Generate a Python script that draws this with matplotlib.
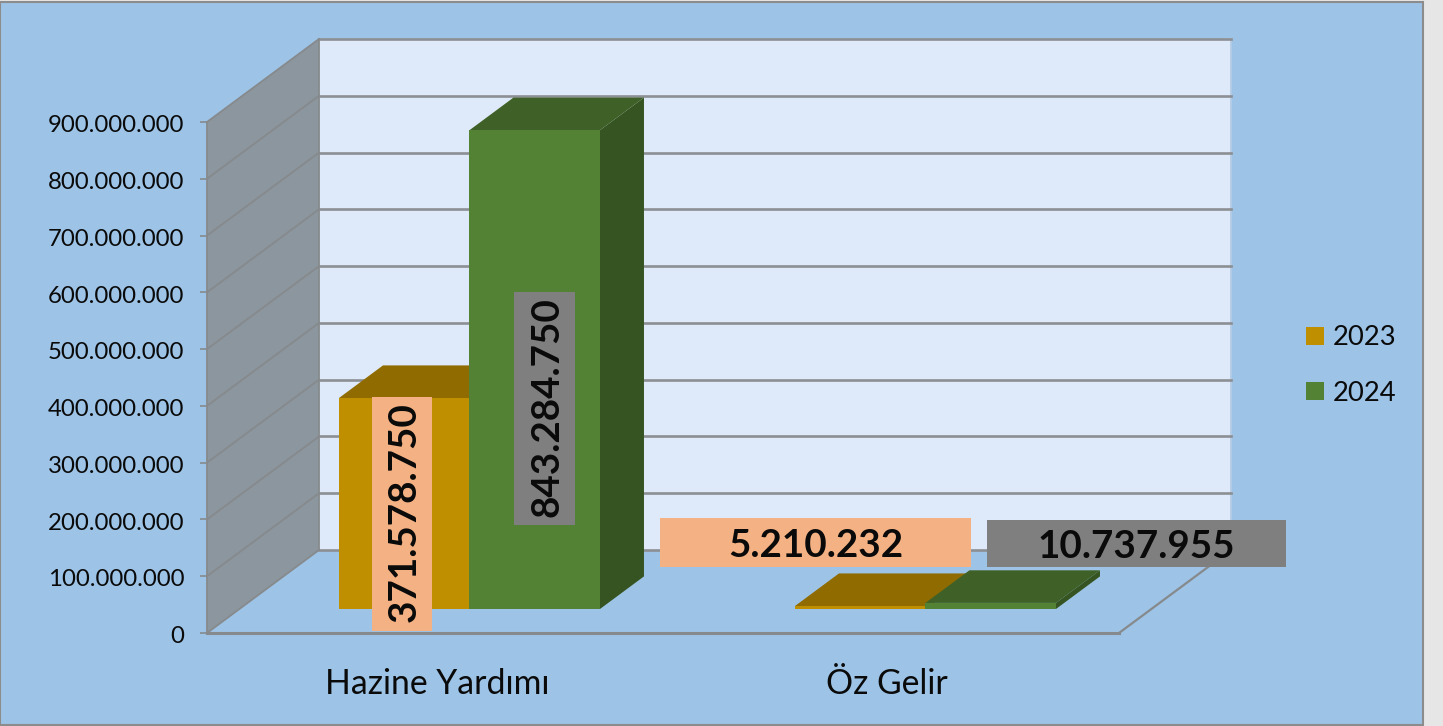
import matplotlib
matplotlib.use("Agg")
import matplotlib.pyplot as plt
from matplotlib.patches import Rectangle, Patch, Polygon
from matplotlib.transforms import Affine2D, ScaledTranslation

categories = ["Hazine Yardımı", "Öz Gelir"]
series_names = ["2023", "2024"]
values_2023 = [371578750, 5210232]
values_2024 = [843284750, 10737955]
label_2023 = ["371.578.750", "5.210.232"]
label_2024 = ["843.284.750", "10.737.955"]
y_ticks = [0, 100000000, 200000000, 300000000, 400000000, 500000000, 600000000, 700000000, 800000000, 900000000]
y_tick_labels = ["0", "100.000.000", "200.000.000", "300.000.000", "400.000.000", "500.000.000",
                 "600.000.000", "700.000.000", "800.000.000", "900.000.000"]

W, H = 1443, 726
FONT = "Lato"
BG = "#9DC3E6"
fig = plt.figure(figsize=(W / 100, H / 100), dpi=100, facecolor="#E6E6E6")

# pixel helper (origin top-left) used only for layout of frame and label boxes
px = Affine2D().scale(1 / W, -1 / H).translate(0, 1) + fig.transFigure
fig.add_artist(Rectangle((0, 2), 1423, 723, transform=px, facecolor=BG, edgecolor="#8C8C8C", lw=1.5, zorder=-5))

# the front plane of the oblique box is the real axes
L, R, T, B = 207, 1119, 122, 633
ax = fig.add_axes([L / W, 1 - B / H, (R - L) / W, (B - T) / H])
ax.set_xlim(0, 2)
ax.set_ylim(0, 900000000)
ax.patch.set_visible(False)
for s in ax.spines.values():
    s.set_visible(False)

DX = 112 / 456          # depth offset in category units
DY = 83 / 511 * 900e6   # depth offset in value units
GRID = "#8C8F93"


def proj(x, y, d):
    return (x + d * DX, y + d * DY)


def poly(pts, **kw):
    ax.add_patch(Polygon(pts, closed=True, clip_on=False, **kw))


ymax = y_ticks[-1]
# back wall, side wall, floor
poly([proj(0, 0, 1), proj(2, 0, 1), proj(2, ymax, 1), proj(0, ymax, 1)], facecolor="#DEEAF9", edgecolor="none", zorder=1)
poly([proj(0, 0, 0), proj(0, 0, 1), proj(0, ymax, 1), proj(0, ymax, 0)], facecolor="#8C969F", edgecolor="none", zorder=1)
poly([proj(0, 0, 0), proj(2, 0, 0), proj(2, 0, 1), proj(0, 0, 1)], facecolor=BG, edgecolor="none", zorder=1)

for t in y_ticks:
    a, b, c = proj(0, t, 0), proj(0, t, 1), proj(2, t, 1)
    ax.plot([a[0], b[0]], [a[1], b[1]], color="#868A8C", lw=1.3, clip_on=False, zorder=2)
    ax.plot([b[0], c[0]], [b[1], c[1]], color=GRID, lw=1.9, clip_on=False, zorder=2)
a, b = proj(0, 0, 0), proj(0, ymax, 0)
ax.plot([a[0], b[0]], [a[1], b[1]], color="#868A8C", lw=1.3, clip_on=False, zorder=2)
a, b = proj(0, ymax, 1), proj(0, 0, 1)
ax.plot([a[0], b[0]], [a[1], b[1]], color="#868A8C", lw=1.3, clip_on=False, zorder=2)
ax.plot([0, 2], [0, 0], color="#868A8C", lw=2.2, clip_on=False, zorder=2)
a, b = proj(2, 0, 0), proj(2, 0, 1)
ax.plot([a[0], b[0]], [a[1], b[1]], color="#868A8C", lw=1.6, clip_on=False, zorder=2)
a, b = proj(2, ymax, 1), proj(2, 0, 1)
ax.plot([a[0], b[0]], [a[1], b[1]], color="#B4CBE6", lw=1.3, clip_on=False, zorder=1.5)


def bar3d(x0, w, v, front, top, side, z):
    d0, d1 = 0.289, 0.682
    x1 = x0 + w
    poly([proj(x1, 0, d0), proj(x1, 0, d1), proj(x1, v, d1), proj(x1, v, d0)], facecolor=side, edgecolor="none", zorder=z)
    poly([proj(x0, v, d0), proj(x1, v, d0), proj(x1, v, d1), proj(x0, v, d1)], facecolor=top, edgecolor="none", zorder=z)
    poly([proj(x0, 0, d0), proj(x1, 0, d0), proj(x1, v, d0), proj(x0, v, d0)], facecolor=front, edgecolor="none", zorder=z + 0.1)


BW = 130.5 / 456
OFF = 0.2184
GOLD = ("#BF8F00", "#8F6B00", "#7F6000")
GREEN = ("#548235", "#3F6127", "#355421")
for i in range(len(categories)):
    bar3d(i + OFF, BW, values_2023[i], *GOLD, 3 + i * 0.01)
    bar3d(i + OFF + BW, BW, values_2024[i], *GREEN, 4 + i * 0.01)

# axis ticks and labels
ax.set_yticks(y_ticks)
ax.set_yticklabels(y_tick_labels, fontname=FONT, fontsize=17.25, color="#0A0A0A")
ax.tick_params(axis="y", length=5, width=1.2, color="#868A8C", pad=11.5)
ax.set_xticks([0.5 + 2 / 456, 1.5 - 4 / 456])
ax.set_xticklabels(categories, fontname=FONT, fontsize=24.3, color="#0A0A0A")
ax.tick_params(axis="x", length=0, pad=25)
down = ScaledTranslation(0, -1.7 / 100, fig.dpi_scale_trans)
for lab in ax.get_yticklabels():
    lab.set_transform(lab.get_transform() + down)

# data label boxes (pixel layout)
boxes = [
    (372, 397, 60, 234, label_2023[0], "#F4B183", 90, 2, -2),
    (514, 292, 61, 233, label_2024[0], "#7F7F7F", 90, 2, -1),
    (660, 518, 311, 49, label_2023[1], "#F4B183", 0, 0, 3),
    (987, 520, 299, 47, label_2024[1], "#7F7F7F", 0, 0, 3),
]
for x, y, w, h, s, c, rot, ox, oy in boxes:
    fig.add_artist(Rectangle((x, y), w, h, transform=px, facecolor=c, edgecolor="none", zorder=10))
    fig.text(x + w / 2 + ox, y + h / 2 + oy, s, transform=px, ha="center", va="center",
             rotation=rot, rotation_mode="anchor", fontname=FONT, fontweight="bold", fontsize=27.8,
             color="#0A0A0A", zorder=11)

# legend
handles = [Patch(facecolor=GOLD[0], label=series_names[0]), Patch(facecolor=GREEN[0], label=series_names[1])]
fig.legend(handles=handles, loc="center left", bbox_to_anchor=(1306 / W, 1 - 365.5 / H), frameon=False,
           prop={"family": FONT, "size": 19.7}, labelcolor="#0A0A0A", borderpad=0, borderaxespad=0,
           handlelength=0.66, handleheight=0.66, handletextpad=0.33, labelspacing=1.1)

fig.savefig("out.png", dpi=100, facecolor=fig.get_facecolor())
